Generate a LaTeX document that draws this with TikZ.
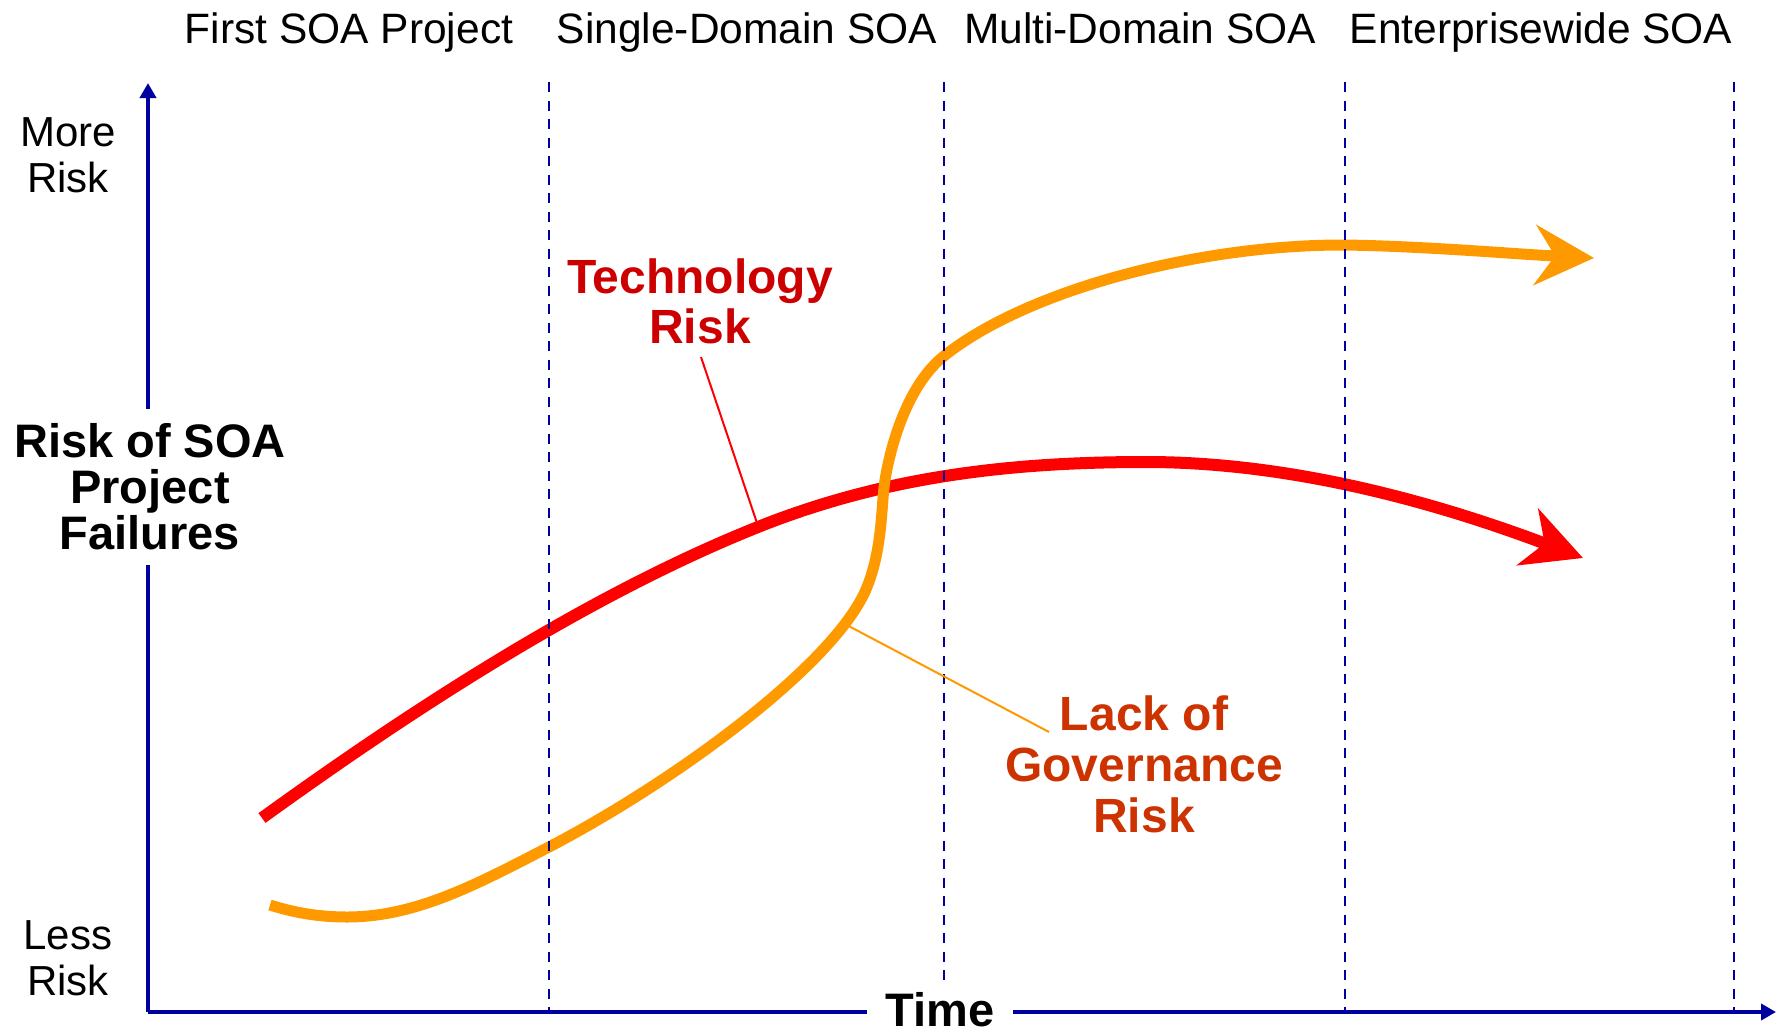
\documentclass[tikz,border=0pt]{standalone}
\usepackage{fontspec}
\setmainfont{Liberation Sans}
\usetikzlibrary{arrows.meta}
\definecolor{axisblue}{RGB}{0,0,160}
\definecolor{curvered}{RGB}{255,0,0}
\definecolor{curveorange}{RGB}{255,153,0}
\definecolor{techred}{RGB}{204,0,0}
\definecolor{govorange}{RGB}{204,51,0}
\begin{document}
\begin{tikzpicture}[x=1pt,y=-1pt,
  hdr/.style={font=\fontsize{42.5}{46}\selectfont, anchor=base, inner sep=0pt},
  sidelbl/.style={font=\fontsize{42}{46}\selectfont, align=center, inner sep=0pt},
  axislbl/.style={font=\bfseries\fontsize{47}{46}\selectfont, align=center, fill=white},
  techlbl/.style={font=\bfseries\fontsize{48}{50}\selectfont, align=center, text=techred, inner sep=0pt},
  govlbl/.style={font=\bfseries\fontsize{48}{51}\selectfont, align=center, text=govorange, inner sep=0pt},
  axisline/.style={draw=axisblue, line width=4pt, -{Triangle[length=15pt,width=16pt]}},
  phase/.style={draw=axisblue, line width=2.5pt, dash pattern=on 10pt off 8.5pt},
  redcurve/.style={draw=curvered, line width=12pt, -{Stealth[length=59pt,width=60pt,inset=18pt]}},
  orangecurve/.style={draw=curveorange, line width=11pt, -{Stealth[length=59pt,width=60pt,inset=20pt]}},
  redlead/.style={draw=curvered, line width=2pt},
  orangelead/.style={draw=curveorange, line width=2pt}
]
\useasboundingbox (0,0) rectangle (1779,1033);

% Technology risk curve
\draw[redcurve] (262,818) .. controls (428,698) and (598,591) .. (758,527)
  .. controls (888,475) and (1016,462) .. (1146,462)
  .. controls (1296,462) and (1443,505) .. (1583,558);

% Lack of governance risk curve
\draw[orangecurve] (270,905) .. controls (295,913) and (320,917) .. (347,917)
  .. controls (417,917) and (479,883) .. (549,847)
  .. controls (679,779) and (837,662) .. (867,587)
  .. controls (883,547) and (881,505) .. (885,480)
  .. controls (892,438) and (910,383) .. (944,356)
  .. controls (1024,292) and (1193,245) .. (1343,245)
  .. controls (1423,246) and (1514,254) .. (1594,258);

% phase separators
\foreach \i/\x in {1/549,2/944,3/1345,4/1734}{
  \coordinate (d\i t) at (\x,82);
  \coordinate (d\i b) at (\x,1012);
  \draw[phase] (d\i t) -- (d\i b);
}

% axes
\coordinate (origin) at (148,1012);
\coordinate (ytip) at (148,83);
\coordinate (xtip) at (1776,1012);
\draw[axisline] (origin) -- (ytip);
\draw[axisline] (origin) -- (xtip);

% headers
\node[hdr] (h1) at (349,44) {First SOA Project};
\node[hdr] (h2) at (747,44) {Single-Domain SOA};
\node[hdr] (h3) at (1140,44) {Multi-Domain SOA};
\node[hdr] (h4) at (1541,44) {Enterprisewide SOA};

% axis labels
\node[sidelbl] (more) at (68,155) {More\\Risk};
\node[sidelbl] (less) at (68,958) {Less\\Risk};
\node[axislbl, inner xsep=4pt, inner ysep=15pt] (ylabel) at (150,487) {Risk of SOA\\Project\\Failures};
\node[axislbl, inner xsep=19pt, inner ysep=3pt, text depth=0pt] (time) at (940,1009) {Time};

% curve labels
\node[techlbl] (tech) at (700,301) {Technology\\Risk};
\node[govlbl] (gov) at (1144,764) {Lack of\\Governance\\Risk};

\coordinate (techfrom) at (701,357);
\coordinate (techpt) at (758,526);
\draw[redlead] (techfrom) -- (techpt);
\coordinate (govpt) at (843,623);
\coordinate (govto) at (1049,732);
\draw[orangelead] (govpt) -- (govto);
\end{tikzpicture}
\end{document}
